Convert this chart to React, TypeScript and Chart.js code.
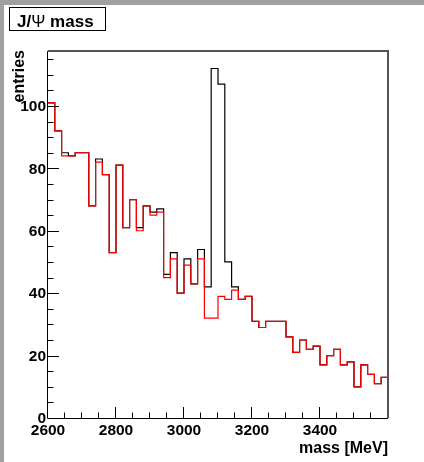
import { useEffect, useRef } from "react";
import { Chart, registerables } from "chart.js";

Chart.register(...registerables);

// Histogram binning: 50 bins of 20 MeV from 2600 to 3600 MeV
const binLow = 2600;
const binHigh = 3600;
const binWidth = 20;

// All candidates (black)
const allEntries = [
  101, 92, 85, 84, 85, 85, 68, 83, 78, 53,
  81, 61, 70, 61, 68, 66, 67, 46, 53, 40,
  51, 43, 54, 42, 112, 107, 50, 42, 38, 39,
  31, 29, 31, 31, 31, 26, 21, 25, 22, 23,
  17, 20, 22, 17, 18, 10, 17, 14, 11, 13,
];

// Background-only candidates (red)
const backgroundEntries = [
  101, 92, 84, 84, 85, 85, 68, 82, 78, 53,
  81, 61, 70, 60, 68, 65, 66, 45, 51, 40,
  49, 43, 51, 32, 32, 39, 38, 41, 38, 39,
  31, 29, 31, 31, 31, 26, 21, 25, 22, 23,
  17, 20, 22, 17, 18, 10, 17, 14, 11, 13,
];

const xTickLabels = [2600, 2800, 3000, 3200, 3400];
const yTickLabels = [0, 20, 40, 60, 80, 100];
const xMinorStep = 50;
const yMinorStep = 5;

const titleLead = "J/";
const titlePsi = "Ψ";
const titleTail = " mass";
const xTitle = "mass [MeV]";
const yTitle = "entries";

const FONT = '"Liberation Sans", Arial, Helvetica, sans-serif';

function toSteps(values: number[]) {
  const pts = values.map((v, i) => ({ x: binLow + i * binWidth, y: v }));
  pts.push({ x: binLow + values.length * binWidth, y: values[values.length - 1] });
  return pts;
}

const yMax = Math.max(...allEntries) * 1.05;

const rootStyle = {
  id: "rootStyle",
  beforeDraw(chart: Chart) {
    const { ctx, width, height } = chart;
    ctx.save();
    ctx.fillStyle = "#ffffff";
    ctx.fillRect(0, 0, width, height);
    // canvas bevel
    ctx.fillStyle = "#a0a0a0";
    ctx.fillRect(0, 0, width, 5);
    ctx.fillRect(0, 0, 4, height);
    ctx.restore();
  },
  afterDatasetsDraw(chart: Chart) {
    const { ctx, chartArea } = chart;
    const xs = chart.scales.x;
    const ys = chart.scales.y;
    const { left, right, top, bottom } = chartArea;
    ctx.save();

    // frame
    ctx.strokeStyle = "#555555";
    ctx.lineWidth = 2;
    ctx.beginPath();
    ctx.moveTo(left, top);
    ctx.lineTo(right, top);
    ctx.lineTo(right, bottom);
    ctx.stroke();
    ctx.strokeStyle = "#000000";
    ctx.lineWidth = 1;
    ctx.beginPath();
    ctx.moveTo(left - 0.5, top);
    ctx.lineTo(left - 0.5, bottom + 0.5);
    ctx.lineTo(right, bottom + 0.5);
    ctx.stroke();

    // x ticks (pointing into the frame)
    ctx.beginPath();
    for (let v = binLow; v < binHigh; v += xMinorStep) {
      const px = Math.round(xs.getPixelForValue(v)) - 0.5;
      const major = (v - binLow) % 200 === 0;
      ctx.moveTo(px, bottom);
      ctx.lineTo(px, bottom - (major ? 11 : 5.5));
    }
    // y ticks
    for (let v = 0; v <= yMax; v += yMinorStep) {
      const py = Math.round(ys.getPixelForValue(v)) + 0.5;
      const major = v % 20 === 0;
      ctx.moveTo(left, py);
      ctx.lineTo(left + (major ? 11 : 5.5), py);
    }
    ctx.stroke();

    // tick labels
    ctx.fillStyle = "#000000";
    ctx.font = `bold 15.5px ${FONT}`;
    ctx.textAlign = "center";
    ctx.textBaseline = "alphabetic";
    xTickLabels.forEach((v) => {
      ctx.fillText(String(v), xs.getPixelForValue(v), bottom + 17);
    });
    ctx.textAlign = "right";
    ctx.textBaseline = "middle";
    yTickLabels.forEach((v) => {
      ctx.fillText(String(v), left - 2, ys.getPixelForValue(v) + 1);
    });

    // axis titles
    ctx.font = `bold 16px ${FONT}`;
    ctx.textAlign = "right";
    ctx.textBaseline = "alphabetic";
    ctx.fillText(xTitle, right, bottom + 34.5);
    ctx.save();
    ctx.translate(23.5, top - 1);
    ctx.rotate(-Math.PI / 2);
    ctx.textAlign = "right";
    ctx.fillText(yTitle, 0, 0);
    ctx.restore();

    // title box
    ctx.fillStyle = "#ffffff";
    ctx.fillRect(9.5, 7.5, 96, 23);
    ctx.strokeStyle = "#000000";
    ctx.lineWidth = 1;
    ctx.strokeRect(9.5, 7.5, 96, 23);
    ctx.fillStyle = "#000000";
    ctx.textAlign = "left";
    const boldFont = `bold 17px ${FONT}`;
    const psiFont = `17px ${FONT}`;
    let tx = 17;
    const ty = 27;
    ctx.font = boldFont;
    ctx.fillText(titleLead, tx, ty);
    tx += ctx.measureText(titleLead).width;
    ctx.font = psiFont;
    ctx.fillText(titlePsi, tx, ty);
    tx += ctx.measureText(titlePsi).width;
    ctx.font = boldFont;
    ctx.fillText(titleTail, tx, ty);

    ctx.restore();
  },
};

export default function App() {
  const canvasRef = useRef<HTMLCanvasElement | null>(null);

  useEffect(() => {
    const canvas = canvasRef.current;
    if (!canvas) return;
    const chart = new Chart(canvas, {
      type: "line",
      data: {
        datasets: [
          {
            label: "background",
            data: toSteps(backgroundEntries),
            borderColor: "#ff0000",
            borderWidth: 1.2,
            stepped: true,
            pointRadius: 0,
            fill: false,
          },
          {
            label: "all",
            data: toSteps(allEntries),
            borderColor: "#000000",
            borderWidth: 1.2,
            stepped: true,
            pointRadius: 0,
            fill: false,
          },
        ],
      },
      options: {
        animation: false,
        responsive: false,
        devicePixelRatio: 1,
        layout: { padding: { left: 48, top: 51, right: 36, bottom: 44 } },
        plugins: {
          legend: { display: false },
          tooltip: { enabled: false },
          title: { display: false },
        },
        scales: {
          x: { type: "linear", min: binLow, max: binHigh, display: false },
          y: { type: "linear", min: 0, max: yMax, display: false },
        },
        events: [],
      },
      plugins: [rootStyle],
    });
    return () => chart.destroy();
  }, []);

  return (
    <div style={{ position: "fixed", left: 0, top: 0, width: 424, height: 462 }}>
      <canvas ref={canvasRef} width={424} height={462} />
    </div>
  );
}
